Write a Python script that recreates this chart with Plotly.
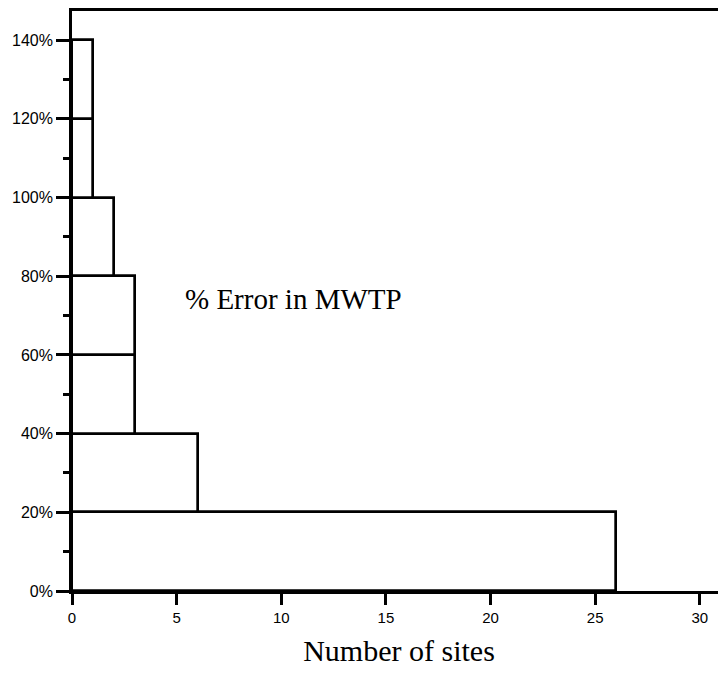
import plotly.graph_objects as go

bin_low = [0, 20, 40, 60, 80, 100, 120]
bin_width = 20
counts = [26, 6, 3, 3, 2, 1, 1]
y_ticks = [0, 20, 40, 60, 80, 100, 120, 140]
y_tick_labels = ["0%", "20%", "40%", "60%", "80%", "100%", "120%", "140%"]
y_minor_ticks = [10, 30, 50, 70, 90, 110, 130]
x_ticks = [0, 5, 10, 15, 20, 25, 30]

centers = [b + bin_width / 2 for b in bin_low]

SERIF = "Liberation Serif, Times New Roman, serif"
SANS = "Liberation Sans, Arial, sans-serif"
LW = 2.7

fig = go.Figure()
fig.add_trace(go.Bar(
    x=counts, y=centers, width=[bin_width] * len(counts), orientation="h",
    marker=dict(color="white", line=dict(color="black", width=LW)),
    showlegend=False, hoverinfo="x+y",
))

fig.add_annotation(x=10.6, y=74.3, xref="x", yref="y", text="% Error in MWTP",
                   showarrow=False, font=dict(family=SERIF, size=29, color="black"))

fig.update_layout(
    width=718, height=665,
    margin=dict(l=64, r=0, t=0, b=82),
    plot_bgcolor="white", paper_bgcolor="white",
    bargap=0,
    font=dict(family=SANS, size=15, color="black"),
    xaxis=dict(
        range=[0, 31.25], tickvals=x_ticks, ticks="outside", ticklen=11, tickwidth=LW,
        tickcolor="black", showline=True, linecolor="black", linewidth=LW, mirror=True,
        showgrid=False, zeroline=False, tickfont=dict(family=SANS, size=15),
        title=dict(text="Number of sites", standoff=16,
                   font=dict(family=SERIF, size=30, color="black")),
    ),
    yaxis=dict(
        range=[0, 147.4], tickvals=y_ticks, ticktext=y_tick_labels,
        ticks="outside", ticklen=13, tickwidth=LW, tickcolor="black",
        minor=dict(tickvals=y_minor_ticks, ticks="outside", ticklen=6,
                   tickwidth=LW, tickcolor="black", showgrid=False),
        showline=True, linecolor="black", linewidth=LW,
        showgrid=False, zeroline=False, tickfont=dict(family=SANS, size=16),
    ),
)

fig.write_html("out.html")
